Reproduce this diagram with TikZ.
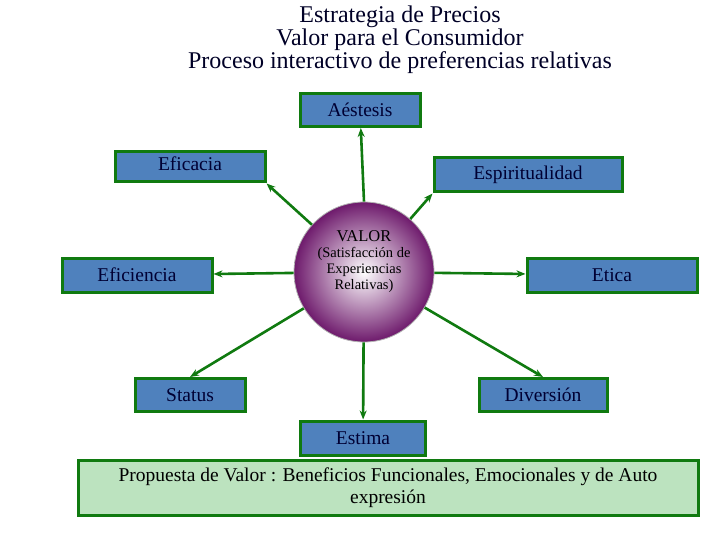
\documentclass[tikz,border=0pt]{standalone}
\usepackage{fontspec}
\setmainfont{Liberation Serif}
\usetikzlibrary{arrows.meta}
\definecolor{boxblue}{HTML}{4F81BD}
\definecolor{linegreen}{HTML}{107A10}
\definecolor{propgreen}{HTML}{BCE3BF}
\definecolor{valpurple}{HTML}{6E1A6C}
\tikzset{
  valbox/.style={draw=linegreen, line width=3pt, fill=boxblue, inner sep=0pt, font=\fontsize{19.5}{22}\selectfont, text=black!80!blue},
  link/.style={-{Stealth[length=9pt,width=7pt]}, draw=linegreen, line width=2.6pt}
}
\begin{document}
\begin{tikzpicture}[x=1pt, y=-1pt]
  \useasboundingbox (0,0) rectangle (720,540);
  \node [font=\fontsize{24}{20.5}\selectfont, align=center, text=black!85!blue] (title) at (400,40)
    {Estrategia de Precios\\Valor para el Consumidor\\Proceso interactivo de preferencias relativas};

  \node [name=valor, circle, minimum size=140pt, draw=gray!60, line width=0.8pt,
         inner color=white, outer color=valpurple, align=center, inner sep=0pt,
         font=\fontsize{16.5}{16}\selectfont] at (364,272)
    {VALOR\\{\fontsize{14.5}{16}\selectfont (Satisfacción de}\\{\fontsize{14.5}{16}\selectfont Experiencias}\\{\fontsize{14.5}{16}\selectfont Relativas)}\\[8pt]};

  \node [valbox, name=aestesis, minimum width=120pt, minimum height=33pt] at (360,110) {Aéstesis};
  \node [valbox, name=eficacia, minimum width=150pt, minimum height=30pt] at (190,167) {\raisebox{6pt}{Eficacia}};
  \node [valbox, name=espir, minimum width=188pt, minimum height=34pt] at (528,175) {Espiritualidad};
  \node [valbox, name=eficiencia, minimum width=150pt, minimum height=34pt] at (137,275) {Eficiencia};
  \node [valbox, name=etica, minimum width=170pt, minimum height=34pt] at (612,275) {Etica};
  \node [valbox, name=status, minimum width=110pt, minimum height=33pt] at (190,395) {Status};
  \node [valbox, name=diversion, minimum width=128pt, minimum height=33pt] at (543,395) {Diversión};
  \node [valbox, name=estima, minimum width=125pt, minimum height=34pt] at (363,438) {Estima};
  \node [name=propuesta, draw=linegreen, line width=3pt, fill=propgreen, minimum width=620pt,
         minimum height=55pt, align=center, font=\fontsize{19.5}{22}\selectfont] at (388,488)
    {Propuesta de Valor : Beneficios Funcionales, Emocionales y de Auto\\expresión};

  \draw [link] (valor.north) -- (aestesis);
  \draw [link] (valor) -- (eficacia.south east);
  \draw [link] (valor) -- (espir.south west);
  \draw [link] (valor) -- (eficiencia);
  \draw [link] (valor) -- (etica);
  \draw [link] (valor) -- (status.north);
  \draw [link] (valor) -- (diversion.north);
  \draw [link] (valor) -- (estima);
\end{tikzpicture}
\end{document}
